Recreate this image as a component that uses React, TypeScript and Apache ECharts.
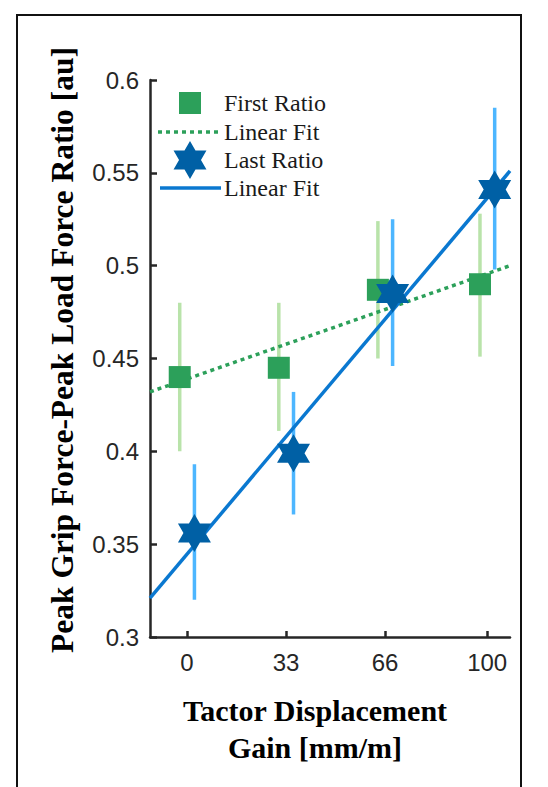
import React, { useEffect, useRef } from "react";
import * as echarts from "echarts";

// ---- data ----
const gains = [0, 33, 66, 100];
const xTickLabels = ["0", "33", "66", "100"];

const firstRatio = [0.44, 0.445, 0.487, 0.49];
const firstLow = [0.4, 0.411, 0.45, 0.451];
const firstHigh = [0.48, 0.48, 0.524, 0.528];

const lastRatio = [0.356, 0.399, 0.485, 0.541];
const lastLow = [0.32, 0.366, 0.446, 0.498];
const lastHigh = [0.393, 0.432, 0.525, 0.585];

const fitX = [-12.3, 107.6];
const firstFitY = [0.432, 0.5];
const lastFitY = [0.321, 0.551];

const yTicks = [0.3, 0.35, 0.4, 0.45, 0.5, 0.55, 0.6];

// dodge offsets (x units) so the two groups do not overlap
const firstDodge = -2.4;
const lastDodge = 2.5;

const HEX_PATH =
  "M0 -100 L28.87 -50 L86.6 -50 L57.74 0 L86.6 50 L28.87 50 L0 100 L-28.87 50 L-86.6 50 L-57.74 0 L-86.6 -50 L-28.87 -50 Z";

const GREEN = "#2ca05a";
const GREEN_ERR = "#b9e3aa";
const STAR = "#0060a5";
const BLUE_ERR = "#4db6ff";
const BLUE_FIT = "#0a78d0";
const AXIS = "#262626";

let registered = false;

export default function App() {
  const ref = useRef<HTMLDivElement>(null);

  useEffect(() => {
    if (!ref.current) return;
    if (!registered) {
      echarts.graphic.registerShape("hexagram", echarts.graphic.extendPath(HEX_PATH, {}));
      registered = true;
    }
    const chart = echarts.init(ref.current, null, { renderer: "svg" });

    const errRender = (color: string) => (params: any, api: any) => {
      const p1 = api.coord([api.value(0), api.value(1)]);
      const p2 = api.coord([api.value(0), api.value(2)]);
      return {
        type: "line",
        shape: { x1: p1[0], y1: p1[1], x2: p2[0], y2: p2[1] },
        style: { stroke: color, lineWidth: 3.5 },
      };
    };

    const legendFont = {
      fontFamily: "Liberation Serif",
      fontSize: 24,
      fill: "#1a1a1a",
      textVerticalAlign: "middle" as const,
    };

    chart.setOption({
      animation: false,
      grid: { left: 150, top: 80, width: 360, height: 557, containLabel: false },
      xAxis: {
        type: "value",
        min: fitX[0],
        max: fitX[1],
        axisLine: { show: true, onZero: false, lineStyle: { color: AXIS, width: 2.5 } },
        axisTick: { show: true, inside: true, length: 6, customValues: gains, lineStyle: { color: AXIS, width: 2.5 } },
        axisLabel: {
          customValues: gains,
          formatter: (v: number) => xTickLabels[gains.indexOf(Math.round(v))] ?? String(v),
          fontFamily: "Liberation Sans",
          fontSize: 24,
          color: AXIS,
          margin: 13,
        },
        splitLine: { show: false },
      },
      yAxis: {
        type: "value",
        min: yTicks[0],
        max: yTicks[yTicks.length - 1],
        interval: 0.05,
        axisLine: { show: true, onZero: false, lineStyle: { color: AXIS, width: 2.5 } },
        axisTick: { show: true, inside: true, length: 7, lineStyle: { color: AXIS, width: 2.5 } },
        axisLabel: {
          formatter: (v: number) => String(parseFloat(v.toFixed(2))),
          fontFamily: "Liberation Sans",
          fontSize: 24,
          color: AXIS,
          margin: 11,
        },
        splitLine: { show: false },
      },
      series: [
        {
          type: "custom",
          name: "First Ratio err",
          renderItem: errRender(GREEN_ERR),
          encode: { x: 0, y: [1, 2] },
          data: gains.map((g, i) => [g + firstDodge, firstLow[i], firstHigh[i]]),
          z: 2,
        },
        {
          type: "custom",
          name: "Last Ratio err",
          renderItem: errRender(BLUE_ERR),
          encode: { x: 0, y: [1, 2] },
          data: gains.map((g, i) => [g + lastDodge, lastLow[i], lastHigh[i]]),
          z: 3,
        },
        {
          type: "line",
          name: "First Fit",
          showSymbol: false,
          symbol: "none",
          lineStyle: { color: GREEN, width: 3.5, type: [4, 4], cap: "butt" },
          data: fitX.map((x, i) => [x, firstFitY[i]]),
          z: 4,
        },
        {
          type: "line",
          name: "Last Fit",
          showSymbol: false,
          symbol: "none",
          lineStyle: { color: BLUE_FIT, width: 3.5 },
          data: fitX.map((x, i) => [x, lastFitY[i]]),
          z: 5,
        },
        {
          type: "scatter",
          name: "First Ratio",
          symbol: "rect",
          symbolSize: 22,
          itemStyle: { color: GREEN, opacity: 1 },
          data: gains.map((g, i) => [g + firstDodge, firstRatio[i]]),
          z: 6,
        },
        {
          type: "scatter",
          name: "Last Ratio",
          symbol: "path://" + HEX_PATH,
          symbolSize: [33, 38],
          itemStyle: { color: STAR, opacity: 1 },
          data: gains.map((g, i) => [g + lastDodge, lastRatio[i]]),
          z: 7,
        },
      ],
      graphic: [
        {
          type: "rect",
          shape: { x: 17, y: 15, width: 504, height: 800 },
          style: { fill: "none", stroke: "#111", lineWidth: 2 },
          silent: true,
        },
        // y-axis title
        {
          type: "text",
          x: 62,
          y: 350,
          rotation: Math.PI / 2,
          style: {
            text: "Peak Grip Force-Peak Load Force Ratio [au]",
            fontFamily: "Liberation Serif",
            fontWeight: "bold",
            fontSize: 31.5,
            fill: "#000",
            textAlign: "center",
            textVerticalAlign: "middle",
          },
        },
        // x-axis title
        {
          type: "text",
          x: 315,
          y: 710,
          style: {
            text: "Tactor Displacement",
            fontFamily: "Liberation Serif",
            fontWeight: "bold",
            fontSize: 30,
            fill: "#000",
            textAlign: "center",
            textVerticalAlign: "middle",
          },
        },
        {
          type: "text",
          x: 315,
          y: 747,
          style: {
            text: "Gain [mm/m]",
            fontFamily: "Liberation Serif",
            fontWeight: "bold",
            fontSize: 30,
            fill: "#000",
            textAlign: "center",
            textVerticalAlign: "middle",
          },
        },
        // legend
        {
          type: "rect",
          shape: { x: 179, y: 92, width: 22, height: 22 },
          style: { fill: GREEN },
        },
        { type: "text", x: 224, y: 103, style: { ...legendFont, text: "First Ratio" } },
        {
          type: "line",
          shape: { x1: 158, y1: 132, x2: 221, y2: 132 },
          style: { stroke: GREEN, lineWidth: 3.5, lineDash: [4, 4] },
        },
        { type: "text", x: 224, y: 132, style: { ...legendFont, text: "Linear Fit" } },
        {
          type: "hexagram",
          x: 190,
          y: 160,
          scaleX: 0.19,
          scaleY: 0.19,
          style: { fill: STAR },
        },
        { type: "text", x: 224, y: 160, style: { ...legendFont, text: "Last Ratio" } },
        {
          type: "line",
          shape: { x1: 160, y1: 188, x2: 221, y2: 188 },
          style: { stroke: BLUE_FIT, lineWidth: 3.5 },
        },
        { type: "text", x: 224, y: 188, style: { ...legendFont, text: "Linear Fit" } },
      ],
    });

    return () => chart.dispose();
  }, []);

  return (
    <div
      ref={ref}
      style={{ position: "absolute", left: 0, top: 0, width: 548, height: 787, background: "#fff" }}
    />
  );
}
